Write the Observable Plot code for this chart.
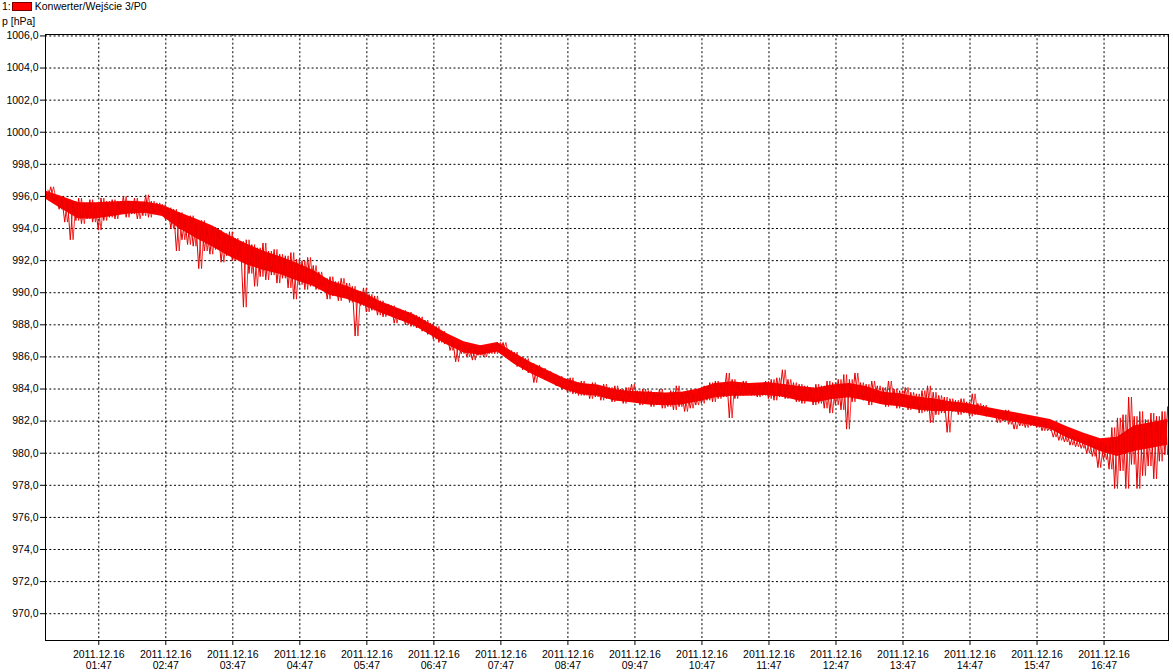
<!DOCTYPE html>
<html>
<head>
<meta charset="utf-8">
<script src="https://cdn.jsdelivr.net/npm/d3@7"></script>
<script src="https://cdn.jsdelivr.net/npm/@observablehq/plot@0.6"></script>
<style>
  html, body { margin: 0; padding: 0; background: #fff; }
  body { width: 1173px; height: 672px; position: relative; overflow: hidden; font-family: "Liberation Sans", Arial, sans-serif; }
  #chart { position: absolute; left: 0; top: 0; z-index: 0; }
  #legend { position: absolute; z-index: 2; left: 2px; top: 0px; font-size: 10.5px; line-height: 12px; color: #000; display: flex; align-items: center; }
  #legend .sw { display: inline-block; width: 18px; height: 7px; background: #f00; border: 1px solid #7a0000; margin: 0 3px 0 1px; }
  #unit { position: absolute; z-index: 2; left: 2px; top: 15px; font-size: 10.5px; line-height: 12px; color: #000; }
</style>
</head>
<body>
<div id="chart"></div>
<div id="legend"><span>1:</span><span class="sw"></span><span>Konwerter/Wejście 3/P0</span></div>
<div id="unit">p [hPa]</div>
<script>
// Pressure readings, 2011-12-16 (UTC used as wall clock)
const startTime = "2011-12-16T00:59:00Z";
const bucketMinutes = 5;     // envelope buckets
const coreMinutes = 15;      // core band samples

// upper envelope of each 5-minute bucket (hPa), hour by hour
const hi = [
  // 01
  996.4, 996.6, 996.0, 995.9, 995.8, 995.7, 995.9, 995.6, 995.8, 995.5, 995.9, 995.7,
  // 02
  995.8, 995.7, 996.0, 995.7, 995.9, 995.6, 996.1, 995.7, 995.6, 995.5, 995.3, 995.2,
  // 03
  995.0, 994.6, 994.8, 994.3, 994.5, 994.0, 994.1, 993.9, 993.7, 993.8, 993.4, 993.2,
  // 04
  993.3, 993.0, 992.8, 993.1, 992.6, 992.7, 992.4, 992.3, 992.5, 992.1, 992.0, 992.2,
  // 05
  991.7, 991.3, 990.9, 991.0, 990.7, 990.9, 990.6, 990.4, 990.1, 990.3, 989.9, 989.8,
  // 06
  989.5, 989.3, 989.2, 989.0, 988.9, 988.8, 988.6, 988.5, 988.3, 988.1, 987.9, 987.6,
  // 07
  987.3, 987.0, 986.8, 986.8, 986.7, 986.6, 986.7, 986.6, 986.8, 986.9, 986.9, 986.4,
  // 08
  986.3, 986.0, 985.9, 985.6, 985.5, 985.3, 985.1, 984.9, 984.8, 984.6, 984.7, 984.4,
  // 09
  984.5, 984.3, 984.4, 984.2, 984.3, 984.1, 984.2, 984.0, 984.1, 984.3, 983.9, 984.0,
  // 10
  983.9, 983.8, 984.0, 983.7, 983.9, 984.2, 983.8, 983.9, 983.7, 984.0, 984.2, 984.4,
  // 11
  984.5, 984.3, 985.0, 984.6, 984.4, 984.5, 984.3, 984.2, 984.3, 984.5, 984.6, 984.7,
  // 12
  985.2, 984.6, 984.4, 984.3, 984.2, 984.1, 984.3, 984.2, 984.5, 984.4, 984.6, 984.9,
  // 13
  984.6, 985.0, 984.4, 984.3, 984.5, 984.2, 984.1, 984.5, 984.0, 983.9, 984.1, 983.8,
  // 14
  983.7, 983.9, 984.2, 983.8, 983.6, 983.5, 983.4, 983.3, 983.4, 983.2, 983.7, 983.1,
  // 15
  983.0, 982.8, 982.7, 982.6, 982.7, 982.3, 982.4, 982.2, 982.3, 982.2, 982.1, 982.0,
  // 16
  981.7, 981.6, 981.4, 981.3, 981.1, 981.0, 980.8, 980.9, 980.6, 980.7, 980.5, 981.6,
  // 17
  982.2, 982.4, 983.5, 982.3, 982.6, 982.1, 982.5, 982.3, 982.6, 982.9
];

// lower envelope of each 5-minute bucket (hPa)
const lo = [
  // 01
  995.9, 995.7, 995.2, 994.4, 993.3, 994.5, 994.3, 994.6, 994.4, 993.9, 994.5, 994.7,
  // 02
  994.6, 994.9, 994.7, 994.9, 994.6, 994.8, 994.7, 994.9, 995.0, 994.6, 994.0, 992.6,
  // 03
  993.3, 993.0, 992.9, 991.5, 992.6, 992.4, 992.7, 991.9, 992.3, 992.0, 992.2, 989.1,
  // 04
  991.2, 990.4, 991.0, 990.8, 991.1, 990.6, 990.9, 990.3, 989.6, 990.5, 990.2, 990.4,
  // 05
  990.2, 990.4, 989.6, 989.8, 989.5, 989.7, 989.4, 987.3, 989.2, 988.8, 988.9, 988.6,
  // 06
  988.5, 988.6, 988.1, 988.3, 988.0, 987.9, 987.8, 987.6, 987.4, 987.1, 986.9, 986.8,
  // 07
  986.4, 985.7, 986.2, 986.0, 985.8, 986.1, 986.0, 986.2, 986.2, 986.4, 986.0, 985.7,
  // 08
  985.4, 985.2, 985.0, 984.4, 984.8, 984.6, 984.5, 984.2, 984.0, 983.8, 983.7, 983.6,
  // 09
  983.6, 983.4, 983.5, 983.3, 983.4, 983.2, 983.3, 983.1, 983.4, 983.2, 983.0, 983.1,
  // 10
  982.9, 983.0, 982.8, 982.9, 982.7, 982.9, 982.6, 982.8, 983.0, 983.1, 983.3, 983.2,
  // 11
  983.4, 983.5, 982.2, 983.4, 983.6, 983.7, 983.6, 983.5, 983.6, 983.4, 983.3, 983.5,
  // 12
  983.4, 983.5, 983.2, 983.1, 983.3, 983.0, 983.1, 982.8, 982.5, 983.0, 982.7, 981.5,
  // 13
  983.2, 983.4, 983.3, 983.0, 983.3, 983.1, 982.9, 983.0, 982.8, 982.9, 982.7, 982.8,
  // 14
  982.5, 982.6, 981.9, 982.4, 982.5, 981.3, 982.6, 982.4, 982.5, 982.3, 982.4, 982.5,
  // 15
  982.3, 982.4, 981.9, 982.0, 981.8, 981.5, 981.7, 981.6, 981.7, 981.6, 981.4, 981.4,
  // 16
  981.0, 980.8, 980.7, 980.5, 980.4, 980.3, 980.0, 979.8, 979.1, 979.6, 979.0, 977.8,
  // 17
  978.9, 977.8, 979.3, 977.8, 978.6, 979.2, 978.4, 979.5, 979.9, 979.6
];

// dense core of the noise band, every 15 minutes (hPa)
const coreHi = [
  996.35, 996.00, 995.60, 995.60, 995.65, 995.70, 995.65, 995.45, 995.00, 994.60, 994.15, 993.55,
  993.05, 992.60, 992.25, 991.85, 991.40, 990.75, 990.40, 990.00, 989.45, 989.05, 988.65, 988.05,
  987.45, 986.95, 986.70, 986.90, 986.25, 985.65, 985.15, 984.65, 984.35, 984.25, 983.95, 983.85,
  983.80, 983.75, 983.80, 984.00, 984.35, 984.45, 984.35, 984.40, 984.30, 984.15, 984.05, 984.25,
  984.35, 984.15, 983.80, 983.70, 983.50, 983.40, 983.20, 983.10, 982.90, 982.70, 982.50, 982.30,
  982.10, 981.65, 981.25, 980.90, 981.00, 981.70, 981.90, 982.10
];
const coreLo = [
  995.85, 995.20, 994.60, 994.60, 994.75, 994.90, 994.95, 994.75, 994.00, 993.40, 992.85, 992.25,
  991.75, 991.40, 991.15, 990.75, 990.40, 989.85, 989.60, 989.20, 988.75, 988.35, 987.95, 987.35,
  986.75, 986.25, 986.10, 986.30, 985.55, 984.95, 984.45, 983.95, 983.65, 983.55, 983.25, 983.15,
  983.00, 982.95, 983.00, 983.20, 983.45, 983.55, 983.55, 983.60, 983.50, 983.25, 983.15, 983.35,
  983.45, 983.25, 983.00, 982.90, 982.70, 982.60, 982.60, 982.50, 982.30, 982.10, 981.90, 981.70,
  981.50, 980.95, 980.55, 980.10, 979.80, 980.10, 980.30, 980.50
];

// axis ticks
const yTicks = [970, 972, 974, 976, 978, 980, 982, 984, 986, 988, 990, 992, 994, 996, 998, 1000, 1002, 1004, 1006];
const xTickLabels = ["01:47","02:47","03:47","04:47","05:47","06:47","07:47","08:47","09:47","10:47","11:47","12:47","13:47","14:47","15:47","16:47"];
const dateLabel = "2011.12.16";
const xDomain = ["2011-12-16T00:59:18Z", "2011-12-16T17:44:42Z"];
const yDomain = [968.33, 1006.09];

// tables built from the arrays
const t0 = new Date(startTime).getTime();
const data = [];
hi.forEach((h, i) => {
  const t = t0 + i * bucketMinutes * 60000;
  data.push({time: new Date(t), p: h});
  data.push({time: new Date(t + bucketMinutes * 30000), p: lo[i]});
});
const core = coreHi.map((h, i) => ({time: new Date(t0 + i * coreMinutes * 60000), hi: h, lo: coreLo[i]}));
const xTicks = xTickLabels.map(s => new Date(`2011-12-16T${s}:00Z`));
const fmtHM = d3.utcFormat("%H:%M");
const fmtY = d => d3.format(".1f")(d).replace(".", ",");

const chart = Plot.plot({
  width: 1173,
  height: 672,
  marginLeft: 45,
  marginRight: 5,
  marginTop: 34,
  marginBottom: 32,
  style: {fontFamily: "'Liberation Sans', Arial, sans-serif", fontSize: "10.5px", color: "#000", background: "#fff"},
  x: {type: "utc", domain: xDomain.map(s => new Date(s)), label: null},
  y: {domain: yDomain, label: null},
  marks: [
    Plot.gridY(yTicks, {stroke: "#000", strokeOpacity: 1, strokeDasharray: "2,2.3"}),
    Plot.gridX(xTicks, {stroke: "#000", strokeOpacity: 1, strokeDasharray: "2,2.3"}),
    Plot.areaY(core, {x: "time", y1: "lo", y2: "hi", fill: "#ff0000", curve: "linear", clip: true}),
    Plot.line(data, {x: "time", y: "p", stroke: "#e60000", strokeWidth: 1, curve: "linear", clip: true}),
    Plot.line(data, {x: "time", y: "p", stroke: "#f00000", strokeWidth: 0.8, curve: "linear", clip: true, dx: 2.8}),
    Plot.frame({stroke: "#000", strokeWidth: 1}),
    Plot.axisY(yTicks, {tickSize: 5, tickPadding: 2, tickFormat: fmtY, label: null, fill: "#000"}),
    Plot.axisX(xTicks, {tickSize: 5, tickPadding: 5, tickFormat: d => `${dateLabel}\n${fmtHM(d)}`, label: null, fill: "#000", lineHeight: 1.02})
  ]
});
document.getElementById("chart").appendChild(chart);
</script>
</body>
</html>
